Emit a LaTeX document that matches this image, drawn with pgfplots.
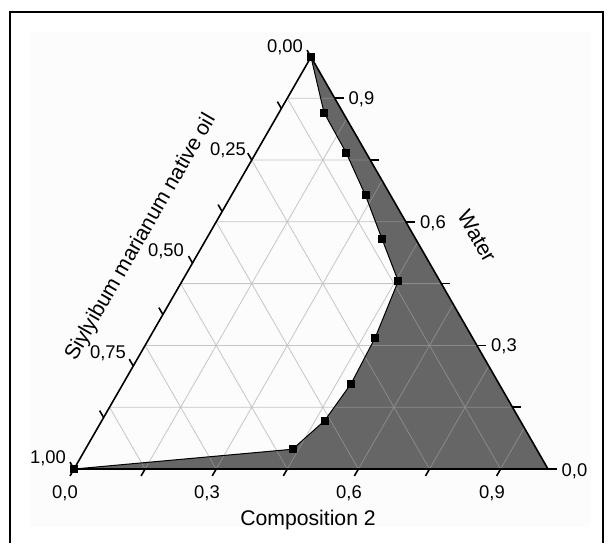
\documentclass[border=0pt]{standalone}
\usepackage{fontspec}
\setmainfont{Liberation Sans}
\usepackage{pgfplots}
\pgfplotsset{compat=1.18}
\usepackage{pgfplotstable}
\definecolor{fillgray}{HTML}{666666}
\definecolor{gridgray}{HTML}{A2A2A2}

% ternary data: oil, composition 2, water
\pgfplotstableread{
oil c2 water
0.000 0.000 1.000
0.040 0.095 0.865
0.042 0.190 0.768
0.053 0.283 0.664
0.071 0.371 0.558
0.088 0.456 0.456
0.205 0.476 0.319
0.312 0.481 0.207
0.413 0.470 0.117
0.515 0.437 0.048
1.000 0.000 0.000
}\curve

\pgfplotstableread{
oil c2 water
0.000 0.000 1.000
0.040 0.095 0.865
0.042 0.190 0.768
0.053 0.283 0.664
0.071 0.371 0.558
0.088 0.456 0.456
0.205 0.476 0.319
0.312 0.481 0.207
0.413 0.470 0.117
0.515 0.437 0.048
1.000 0.000 0.000
0.000 1.000 0.000
0.000 0.000 1.000
}\region

\begin{document}
\begin{tikzpicture}
\begin{scope}[x=0.5pt,y=-0.5pt]
  \fill[gray!2] (30,32) rectangle (591,527);
  \draw[line width=1pt] (10,543) -- (10,12) -- (603,12) -- (603,543);
\end{scope}

\begin{axis}[at={(37pt,-234.5pt)}, anchor=south west, scale only axis,
  width=237pt, height=206pt, xmin=0, xmax=1, ymin=0, ymax=0.8660,
  hide axis, clip=false]
  \addplot[draw=none, fill=fillgray]
    table[x expr={\thisrow{c2}+0.5*\thisrow{water}}, y expr={0.8660*\thisrow{water}}] {\region};
  % grid lines: water
  \draw[gridgray, opacity=0.6, line width=0.4pt]
    (0.075,0.1299) -- (0.925,0.1299)
    (0.15,0.2598) -- (0.85,0.2598)
    (0.225,0.3897) -- (0.775,0.3897)
    (0.3,0.5196) -- (0.7,0.5196)
    (0.375,0.6495) -- (0.625,0.6495)
    (0.45,0.7794) -- (0.55,0.7794)
  % composition 2
    (0.15,0) -- (0.575,0.7361)
    (0.3,0) -- (0.65,0.6062)
    (0.45,0) -- (0.725,0.4763)
    (0.6,0) -- (0.8,0.3464)
    (0.75,0) -- (0.875,0.2165)
    (0.9,0) -- (0.95,0.0866)
  % oil
    (0.45,0.7794) -- (0.9,0)
    (0.375,0.6495) -- (0.75,0)
    (0.3,0.5196) -- (0.6,0)
    (0.225,0.3897) -- (0.45,0)
    (0.15,0.2598) -- (0.3,0)
    (0.075,0.1299) -- (0.15,0);
  \draw[black, line width=0.8pt] (0,0) -- (1,0) -- (0.5,0.8660) -- cycle;
  \addplot[black, line width=0.5pt, mark=square*, mark size=1.75pt]
    table[x expr={\thisrow{c2}+0.5*\thisrow{water}}, y expr={0.8660*\thisrow{water}}] {\curve};
\end{axis}

\begin{scope}[x=0.5pt,y=-0.5pt, line width=0.8pt,
  every node/.style={font=\fontsize{9.2}{10}\selectfont, inner sep=0pt, text depth=0pt}]
  % left ticks (oil)
  \foreach \k in {0,...,8}
    \draw ({311-237*0.125*\k},{57+412*0.125*\k}) -- ++(-4,-6.9);
  % bottom ticks (composition 2)
  \foreach \k in {0,...,6}
    \draw ({74+474*0.15*\k},469) -- ++(-4,6.9);
  % right ticks (water)
  \foreach \k in {0,...,6}
    \draw ({548-237*0.15*\k},{469-412*0.15*\k}) -- ++(9,0);
  % labels
  \node at (285,46) {0,00};
  \node at (228,149) {0,25};
  \node at (166,250) {0,50};
  \node at (108,352) {0,75};
  \node at (48,457) {1,00};
  \node at (65,492) {0,0};
  \node at (207,492) {0,3};
  \node at (349,492) {0,6};
  \node at (492,492) {0,9};
  \node at (574.5,470) {0,0};
  \node at (504,345) {0,3};
  \node at (433,222) {0,6};
  \node at (361.5,98) {0,9};
  \node[font=\fontsize{10.6}{12}\selectfont] at (308,518) {Composition 2};
  \node[font=\fontsize{10.6}{12}\selectfont, rotate=-60] at (477,236) {Water};
  \node[font=\fontsize{10.6}{12}\selectfont, rotate=60, text depth=] at (141,237.5) {Siylyibum marianum native oil};
\end{scope}

\pgfresetboundingbox
\path[use as bounding box] (0,0) rectangle (304pt,-271.5pt);
\end{tikzpicture}
\end{document}
